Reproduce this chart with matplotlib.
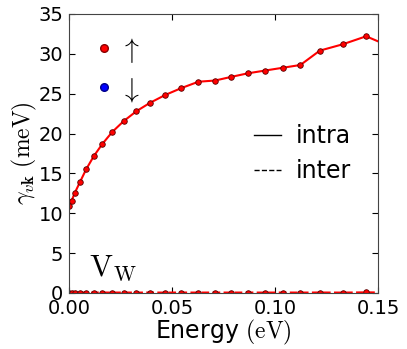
import numpy as np
import matplotlib
matplotlib.use('Agg')
from matplotlib import pyplot as plt
from matplotlib.lines import Line2D

# data
energy = [0.0, 0.0013, 0.0029, 0.0053, 0.0083, 0.012, 0.0162, 0.021, 0.0265,
          0.0327, 0.0393, 0.0468, 0.0545, 0.0628, 0.0709, 0.0786, 0.0867,
          0.0951, 0.1037, 0.1123, 0.1217, 0.1329, 0.1442, 0.156]
intra = [10.95, 11.6, 12.6, 13.9, 15.5, 17.15, 18.7, 20.2, 21.55,
         22.8, 23.85, 24.85, 25.7, 26.5, 26.65, 27.1, 27.55,
         27.9, 28.25, 28.6, 30.4, 31.2, 32.2, 30.9]
inter = [0.05, 0.05, 0.06, 0.05, 0.06, 0.05, 0.06, 0.05, 0.06,
         0.05, 0.06, 0.05, 0.06, 0.05, 0.06, 0.05, 0.06,
         0.05, 0.06, 0.05, 0.06, 0.05, 0.08, 0.05]

plt.rcParams['mathtext.fontset'] = 'cm'
plt.rcParams['font.size'] = 13

fig = plt.figure(figsize=(4.07, 3.49), dpi=100)
ax = fig.add_axes([0.1695, 0.1605, 0.7595, 0.7995])

ax.plot(energy, intra, '-', color='red', lw=1.5, marker='o', ms=4,
        mfc='red', mec='#550000', mew=0.6)
ax.plot(energy, inter, '--', color='red', lw=1.5, marker='o', ms=4,
        mfc='red', mec='#550000', mew=0.6)

ax.set_xlim(0, 0.15)
ax.set_ylim(0, 35)
ax.set_xticks([0.0, 0.05, 0.10, 0.15])
ax.set_xticklabels(['0.00', '0.05', '0.10', '0.15'])
ax.set_yticks(range(0, 36, 5))
ax.tick_params(direction='in', top=True, right=True, length=4, labelsize=14, pad=4)
for s in ax.spines.values():
    s.set_color('#444444')

ax.set_xlabel(r'Energy $\mathrm{(eV)}$', fontsize=17, labelpad=0)
ax.set_ylabel(r'$\gamma_{v\mathbf{k}}$ $\mathrm{(meV)}$', fontsize=17, labelpad=0)

ax.text(0.0095, 2.2, r'$\mathrm{V_W}$', fontsize=22)

# spin legend
spin = [Line2D([], [], ls='none', marker='o', color='red', mec='#880000', ms=5.5),
        Line2D([], [], ls='none', marker='o', color='blue', mec='#000088', ms=5.5)]
leg1 = ax.legend(spin, [r'$\uparrow$', r'$\downarrow$'], loc='upper left',
                 bbox_to_anchor=(0.007, 1.012), frameon=False, fontsize=20,
                 handlelength=0.6, handletextpad=0.25, labelspacing=0.35)
ax.add_artist(leg1)

# line style legend
styles = [Line2D([], [], ls='-', color='black', lw=1),
          Line2D([], [], ls='--', color='black', lw=1)]
ax.legend(styles, ['intra', 'inter'], loc='center right', bbox_to_anchor=(0.98, 0.5),
          frameon=False, fontsize=17, handlelength=1.15, handletextpad=0.6,
          labelspacing=0.45)

plt.savefig('out.png')
